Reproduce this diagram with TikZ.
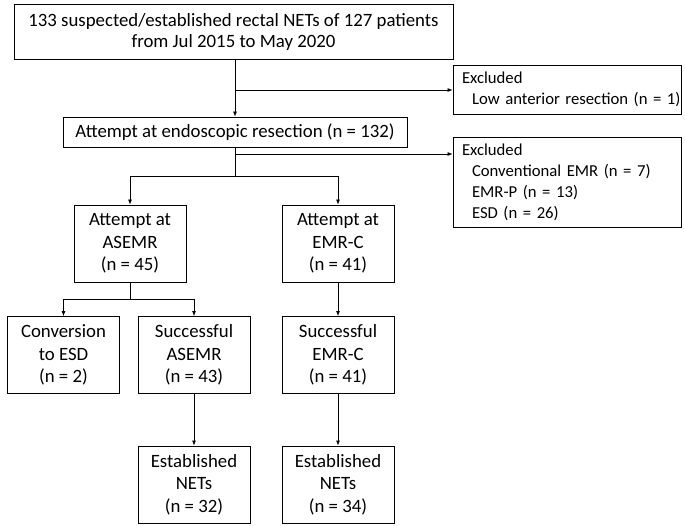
\documentclass[tikz,border=0pt]{standalone}
\usepackage{fontspec}
\setmainfont{Carlito}
\usetikzlibrary{arrows.meta}

\tikzset{
  box/.style={draw, line width=0.8bp, inner sep=0pt, align=center,
              minimum width=112bp, minimum height=77bp},
  exclbox/.style={draw, line width=0.8bp, inner sep=0pt,
              align=left, text width=228bp,
              font=\fontsize{16.7bp}{21bp}\selectfont},
  link/.style={line width=0.8bp, -{Latex[length=5bp,width=4bp]}},
  plain/.style={line width=0.8bp}
}

\begin{document}
\begin{tikzpicture}[x=1bp,y=-1bp,font=\fontsize{18.8bp}{22.5bp}\selectfont]
                            \useasboundingbox (0,0) rectangle (685,526);
                            % main column
                            \node[box, minimum width=439bp, minimum height=55bp,
                                  font=\fontsize{18.8bp}{21bp}\selectfont] (start) at (233.5,31.5)
                            {133 suspected/established rectal NETs of 127 patients\\from Jul 2015 to May 2020};
                            \node[box, minimum width=344bp, minimum height=30bp] (attempt) at (235,132)
                            {Attempt at endoscopic resection (n = 132)};
                            % excluded
                            \node[exclbox, minimum height=49bp] (excla) at (567,89.5)
                            {\hspace*{9bp}Excluded\\\hspace*{19bp}Low anterior resection (n = 1)};
                            \node[exclbox, minimum height=90bp] (exclb) at (567,182)
                            {\hspace*{9bp}Excluded\\\hspace*{19bp}Conventional EMR (n = 7)\\\hspace*{19bp}EMR-P (n = 13)\\\hspace*{19bp}ESD (n = 26)};
                            % methods
                            \node[box] (asemr) at (130,243.5) {Attempt at\\ASEMR\\(n = 45)};
                            \node[box] (emrc) at (338,243.5) {Attempt at\\EMR-C\\(n = 41)};
                            \node[box] (conv) at (63.5,355) {Conversion\\to ESD\\(n = 2)};
                            \node[box] (succa) at (194,355) {Successful\\ASEMR\\(n = 43)};
                            \node[box] (succc) at (338,355) {Successful\\EMR-C\\(n = 41)};
                            \node[box] (esta) at (194,484.5) {Established\\NETs\\(n = 32)};
                            \node[box] (estc) at (338,484.5) {Established\\NETs\\(n = 34)};
                            % branch points
                            \coordinate (ba) at (235,90);
                            \coordinate (bb) at (235,154);
                            \coordinate (bc) at (235,176);
                            \coordinate (bd) at (130,299);
                            % connectors
                            \draw[link] (start.south -| ba) -- (attempt.north -| ba);
                            \draw[link] (ba) -- (excla.west |- ba);
                            \draw[plain] (attempt.south -| bb) -- (bc);
                            \draw[link] (bb) -- (exclb.west |- bb);
                            \draw[plain] (asemr.north |- bc) -- (emrc.north |- bc);
                            \draw[link] (asemr.north |- bc) -- (asemr.north);
                            \draw[link] (emrc.north |- bc) -- (emrc.north);
                            \draw[plain] (asemr.south) -- (bd);
                            \draw[plain] (conv.north |- bd) -- (succa.north |- bd);
                            \draw[link] (conv.north |- bd) -- (conv.north);
                            \draw[link] (succa.north |- bd) -- (succa.north);
                            \draw[link] (emrc) -- (succc);
                            \draw[link] (succa) -- (esta);
                            \draw[link] (succc) -- (estc);
                        \end{tikzpicture}
\end{document}
